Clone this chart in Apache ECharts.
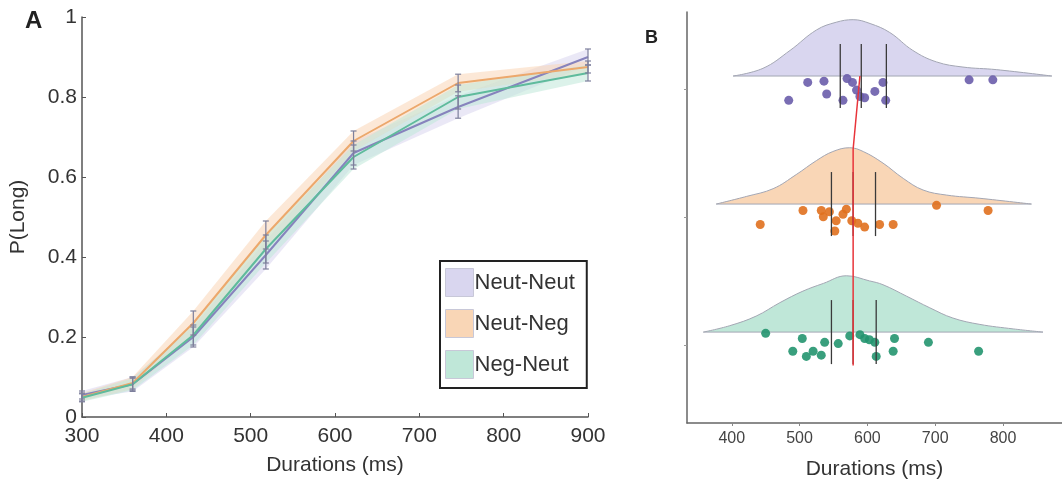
<!DOCTYPE html>
<html>
<head>
<meta charset="utf-8">
<script src="https://cdn.jsdelivr.net/npm/echarts@6/dist/echarts.min.js"></script>
<style>
  html, body { margin: 0; padding: 0; background: #fff; }
  #main { width: 1062px; height: 480px; }
</style>
</head>
<body>
<div id="main"></div>
<script>
// ---- Panel A: psychometric curves ----
const durations = [300, 360, 432, 518, 622, 746, 900];
const groupNames = ['Neut-Neut', 'Neut-Neg', 'Neg-Neut'];
const pLongNeutNeut = [0.055, 0.082, 0.2, 0.405, 0.66, 0.775, 0.9];
const pLongNeutNeg = [0.05, 0.085, 0.235, 0.455, 0.69, 0.835, 0.875];
const pLongNegNeut = [0.048, 0.082, 0.205, 0.42, 0.65, 0.8, 0.86];
const seNeutNeut = [0.01, 0.018, 0.025, 0.035, 0.03, 0.028, 0.02];
const seNeutNeg = [0.01, 0.015, 0.03, 0.035, 0.025, 0.022, 0.015];
const seNegNeut = [0.01, 0.015, 0.025, 0.035, 0.03, 0.03, 0.02];

// ---- Panel B: raincloud ----
const xTicksB = [400, 500, 600, 700, 800];
const rowTicksB = [0, 1, 2]; // Neg-Neut, Neut-Neg, Neut-Neut
// density outlines: [duration, height above baseline]
const densNeutNeut = [[402, 0], [446, 0.06], [486, 0.2], [525, 0.36], [554, 0.42], [579, 0.44], [604, 0.41], [633, 0.34], [667, 0.2], [702, 0.11], [741, 0.07], [790, 0.05], [872, 0]];
const densNeutNeg = [[377, 0], [422, 0.06], [461, 0.12], [495, 0.23], [525, 0.34], [549, 0.41], [574, 0.44], [594, 0.41], [623, 0.32], [653, 0.2], [682, 0.11], [717, 0.07], [766, 0.045], [842, 0]];
const densNegNeut = [[358, 0], [397, 0.05], [436, 0.125], [471, 0.23], [505, 0.32], [535, 0.38], [569, 0.44], [603, 0.4], [623, 0.37], [658, 0.28], [692, 0.19], [726, 0.11], [766, 0.06], [815, 0.025], [859, 0]];
// individual participants: [duration, vertical jitter]
const ptsNeutNeut = [[484, -0.09], [512, 0.05], [536, 0.06], [540, -0.04], [570, 0.08], [564, -0.09], [578, 0.05], [584, -0.01], [589, -0.06], [596, -0.07], [611, -0.02], [623, 0.05], [627, -0.09], [750, 0.07], [785, 0.07]];
const ptsNeutNeg = [[442, -0.06], [505, 0.05], [532, 0.05], [535, 0], [544, 0.04], [554, -0.03], [552, -0.11], [564, 0.02], [569, 0.06], [577, -0.03], [586, -0.05], [596, -0.08], [618, -0.06], [638, -0.06], [702, 0.09], [778, 0.05]];
const ptsNegNeut = [[450, 0.09], [504, 0.05], [490, -0.05], [510, -0.09], [520, -0.05], [532, -0.08], [537, 0.02], [557, 0.01], [574, 0.07], [589, 0.08], [596, 0.05], [603, 0.04], [611, 0.02], [613, -0.09], [640, 0.05], [638, -0.05], [690, 0.02], [764, -0.05]];
// quartiles (25th, median, 75th)
const quartNeutNeut = [560, 591, 628];
const quartNeutNeg = [547, 579, 612];
const quartNegNeut = [547, 579, 613];
// red line linking the medians: [duration, row]
const medianLink = [[589, 2.1], [579, 1.53], [579, -0.16]];

const fills = ['#d9d6ef', '#f9d6b6', '#bfe7d8'];
const lines = ['#8783bd', '#eca86c', '#5fbb9c'];
const dots = ['#6a5dab', '#e0701e', '#23956f'];
const txt = '#333';

const chart = echarts.init(document.getElementById('main'));

const pAll = [pLongNeutNeut, pLongNeutNeg, pLongNegNeut];
const seAll = [seNeutNeut, seNeutNeg, seNegNeut];
const seriesA = [];
groupNames.forEach((name, g) => {
  const p = pAll[g], se = seAll[g];
  // shaded band, one trapezoid per segment
  const segs = [];
  for (let i = 0; i < durations.length - 1; i++) {
    segs.push([durations[i], p[i] - se[i], p[i] + se[i], durations[i + 1], p[i + 1] - se[i + 1], p[i + 1] + se[i + 1]]);
  }
  seriesA.push({
    type: 'custom', name: name, xAxisIndex: 0, yAxisIndex: 0, z: 1,
    itemStyle: { color: fills[g] },
    data: segs,
    renderItem: (params, api) => {
      const a = api.coord([api.value(0), api.value(1)]);
      const b = api.coord([api.value(0), api.value(2)]);
      const c = api.coord([api.value(3), api.value(5)]);
      const d = api.coord([api.value(3), api.value(4)]);
      return { type: 'polygon', shape: { points: [a, b, c, d] }, style: { fill: fills[g], opacity: 0.55 } };
    }
  });
});
groupNames.forEach((name, g) => {
  seriesA.push({
    type: 'line', name: '_mean' + g, data: durations.map((d, i) => [d, pAll[g][i]]),
    symbol: 'none', lineStyle: { color: lines[g], width: 2 },
    xAxisIndex: 0, yAxisIndex: 0, z: 3
  });
  seriesA.push({
    type: 'custom', name: '_err' + g, xAxisIndex: 0, yAxisIndex: 0, z: 4,
    data: durations.map((d, i) => [d, pAll[g][i] - seAll[g][i], pAll[g][i] + seAll[g][i]]),
    renderItem: (params, api) => {
      const lo = api.coord([api.value(0), api.value(1)]);
      const hi = api.coord([api.value(0), api.value(2)]);
      const st = { stroke: '#7d7f9c', lineWidth: 1.2 };
      return {
        type: 'group', children: [
          { type: 'line', shape: { x1: lo[0], y1: lo[1], x2: hi[0], y2: hi[1] }, style: st },
          { type: 'line', shape: { x1: lo[0] - 3, y1: lo[1], x2: lo[0] + 3, y2: lo[1] }, style: st },
          { type: 'line', shape: { x1: hi[0] - 3, y1: hi[1], x2: hi[0] + 3, y2: hi[1] }, style: st }
        ]
      };
    }
  });
});

// panel B series
const densAll = [densNeutNeut, densNeutNeg, densNegNeut];
const ptsAll = [ptsNeutNeut, ptsNeutNeg, ptsNegNeut];
const quartAll = [quartNeutNeut, quartNeutNeg, quartNegNeut];
const rowOf = [2, 1, 0];
const seriesB = [];
groupNames.forEach((name, g) => {
  const row = rowOf[g];
  const base = row + 0.1;
  seriesB.push({
    type: 'line', name: '_dens' + g, xAxisIndex: 1, yAxisIndex: 1,
    data: densAll[g].map(p => [p[0], base + p[1]]), smooth: 0.4,
    symbol: 'none', lineStyle: { color: '#a3a6b3', width: 1 },
    areaStyle: { color: fills[g], opacity: 1, origin: base }, z: 1
  });
  seriesB.push({
    type: 'line', name: '_base' + g, xAxisIndex: 1, yAxisIndex: 1,
    data: [[densAll[g][0][0], base], [densAll[g][densAll[g].length - 1][0], base]],
    symbol: 'none', lineStyle: { color: '#a3a6b3', width: 1 }, z: 1
  });
  seriesB.push({
    type: 'scatter', name: '_pts' + g, xAxisIndex: 1, yAxisIndex: 1,
    data: ptsAll[g].map(p => [p[0], row + p[1]]), symbolSize: 9,
    itemStyle: { color: dots[g], opacity: 0.9 }, z: 2
  });
  seriesB.push({
    type: 'custom', name: '_quart' + g, xAxisIndex: 1, yAxisIndex: 1, z: 3,
    data: quartAll[g].map(q => [q, row - 0.15, row + 0.35]),
    renderItem: (params, api) => {
      const lo = api.coord([api.value(0), api.value(1)]);
      const hi = api.coord([api.value(0), api.value(2)]);
      return { type: 'line', shape: { x1: lo[0], y1: lo[1], x2: hi[0], y2: hi[1] }, style: { stroke: '#3a3a3a', lineWidth: 1.3 } };
    }
  });
});
seriesB.push({
  type: 'line', name: '_median', xAxisIndex: 1, yAxisIndex: 1, data: medianLink,
  symbol: 'none', lineStyle: { color: '#e8343a', width: 1.5 }, z: 4
});

const option = {
  animation: false,
  textStyle: { fontFamily: 'Liberation Sans, Arial, sans-serif' },
  title: [
    { text: 'A', left: 20, top: 4, textStyle: { fontSize: 24, fontWeight: 'bold', color: '#222' } },
    { text: 'B', left: 640, top: 24, textStyle: { fontSize: 18, fontWeight: 'bold', color: '#222' } }
  ],
  legend: {
    orient: 'vertical', left: 440, top: 261,
    padding: [7, 12, 9, 5], itemGap: 12, itemWidth: 28, itemHeight: 28,
    borderColor: '#222', borderWidth: 2,
    textStyle: { fontSize: 22, color: txt, padding: [0, 0, 0, -4] },
    data: groupNames.map((n, g) => ({ name: n, icon: 'rect', itemStyle: { color: fills[g], borderColor: '#c8c8d8', borderWidth: 1 } }))
  },
  grid: [
    { left: 82, right: 474, top: 17, bottom: 63, outerBoundsMode: 'none' },
    { left: 687, right: 0, top: 12, bottom: 57, outerBoundsMode: 'none' }
  ],
  xAxis: [
    {
      type: 'value', gridIndex: 0, min: 300, max: 900, interval: 100,
      name: 'Durations (ms)', nameLocation: 'middle', nameGap: 38,
      nameTextStyle: { fontSize: 21, color: txt },
      axisLine: { lineStyle: { color: '#555', width: 1.5 } },
      axisTick: { inside: true, length: 4, lineStyle: { color: '#555' } },
      axisLabel: { fontSize: 21, color: txt, margin: 9 },
      splitLine: { show: false }
    },
    {
      type: 'value', gridIndex: 1, min: 334, max: 887,
      name: 'Durations (ms)', nameLocation: 'middle', nameGap: 36,
      nameTextStyle: { fontSize: 21, color: txt },
      axisLine: { onZero: false, lineStyle: { color: '#666', width: 1.5 } },
      axisTick: { inside: false, length: 3, customValues: xTicksB, lineStyle: { color: '#888' } },
      axisLabel: { fontSize: 16, color: '#444', margin: 8, customValues: xTicksB },
      splitLine: { show: false }
    }
  ],
  yAxis: [
    {
      type: 'value', gridIndex: 0, min: 0, max: 1, interval: 0.2,
      name: 'P(Long)', nameLocation: 'middle', nameGap: 53,
      nameTextStyle: { fontSize: 21, color: txt },
      axisLine: { show: true, lineStyle: { color: '#555', width: 1.5 } },
      axisTick: { show: true, inside: true, length: 4, lineStyle: { color: '#555' } },
      axisLabel: { fontSize: 21, color: txt, margin: 5 },
      splitLine: { show: false }
    },
    {
      type: 'value', gridIndex: 1, min: -0.61, max: 2.6,
      axisLine: { show: true, onZero: false, lineStyle: { color: '#666', width: 1.5 } },
      axisTick: { show: true, length: 3, customValues: rowTicksB, lineStyle: { color: '#999' } },
      axisLabel: { show: false },
      splitLine: { show: false }
    }
  ],
  series: seriesA.concat(seriesB)
};

chart.setOption(option);
</script>
</body>
</html>
